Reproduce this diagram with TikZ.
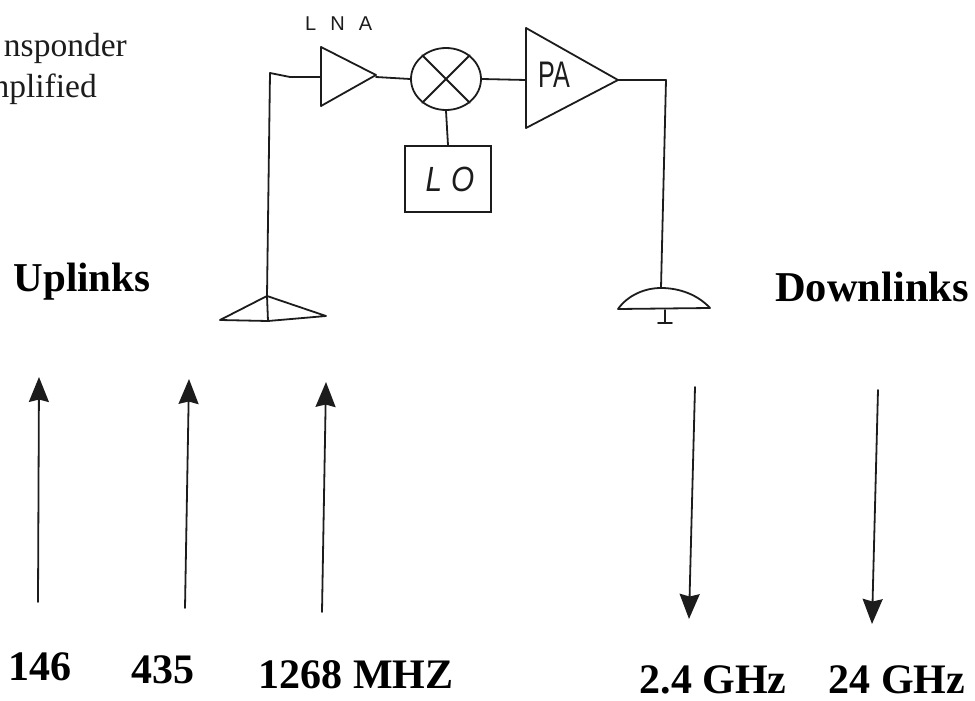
\documentclass[tikz,border=0pt]{standalone}
\usepackage{fontspec}
\setmainfont{Liberation Serif}
\newfontfamily\handfont{Liberation Sans}
\newfontfamily\handlna[LetterSpace=70]{Liberation Sans}
\newfontfamily\handlo[LetterSpace=30]{Liberation Sans}
\usetikzlibrary{arrows.meta,shapes.geometric}
\definecolor{ink}{HTML}{1c1c1c}
\tikzset{
  wire/.style={draw=ink,line width=1.8pt,line join=round,line cap=round},
  sig/.style={wire,-{Stealth[length=25pt,width=20pt,inset=2.5pt]}},
  bigtext/.style={font=\fontsize{42}{42}\selectfont\bfseries,text=black,inner sep=0pt,anchor=base},
  note/.style={font=\fontsize{33.5}{34}\selectfont,text=ink,inner sep=0pt,anchor=base east},
  hand/.style={text=ink,inner sep=0pt}
}
\begin{document}
\begin{tikzpicture}[x=1pt,y=-1pt]
\useasboundingbox (0,0) rectangle (975,701);
\node[note] (n1) at (127,57) {nsponder};
\node[note] (n2) at (97,98) {nplified};
% LNA
\coordinate (lnaA) at (321,47);
\coordinate (lnaB) at (376,75);
\coordinate (lnaC) at (321,106);
\draw[wire] (lnaA) -- (lnaB) -- (lnaC) -- cycle;
\node[hand,font=\handlna\fontsize{20}{20}\selectfont,anchor=base west] (lnat) at (305,31) {LNA};
% mixer
\node[ellipse,draw=ink,line width=1.8pt,minimum width=70pt,minimum height=62pt,inner sep=0pt] (mix) at (446,79) {};
\draw[wire] (mix.135) -- (mix.-45);
\draw[wire] (mix.45) -- (mix.-135);
% PA
\coordinate (paA) at (526,28);
\coordinate (paB) at (618,80);
\coordinate (paC) at (526,128);
\draw[wire] (paA) -- (paB) -- (paC) -- cycle;
\node[hand,font=\handfont\fontsize{37}{37}\selectfont,xscale=.68] (pat) at (554,75) {PA};
% LO
\node[draw=ink,line width=1.8pt,minimum width=86pt,minimum height=66pt,inner sep=0pt] (lo) at (448,179) {};
\node[hand,font=\handlo\itshape\fontsize{35}{35}\selectfont,xscale=.85] (lot) at (450,179) {LO};
% wiring
\coordinate (c1) at (270,73);
\coordinate (c1b) at (290,77);
\coordinate (c2) at (321,77);
\coordinate (c3) at (666,80);
\coordinate (lnaout) at (376,77);
\coordinate (paIn) at (526,80);
\coordinate (ant1) at (267,296);
\coordinate (ant1L) at (220,320);
\coordinate (ant1R) at (326,316);
\coordinate (ant1B) at (268,321);
\coordinate (ant2) at (661,288);
\coordinate (ant2L) at (618,309);
\coordinate (ant2R) at (710,308);
\coordinate (st) at (665,310);
\coordinate (stb) at (665,323);
\coordinate (stL) at (658,323);
\coordinate (stR) at (672,323);
\draw[wire] (ant1) -- (c1) -- (c1b) -- (c2);
\draw[wire] (lnaout) -- (mix.west);
\draw[wire] (mix.east) -- (paIn);
\draw[wire] (mix.south) -- (lo.north);
\draw[wire] (paB) -- (c3) -- (ant2);
\draw[wire] (ant1) -- (ant1L) -- (ant1B) -- (ant1R) -- cycle;
\draw[wire] (ant1) -- (ant1B);
\draw[wire] (ant2L) .. controls (628,295) and (645,288) .. (ant2) .. controls (680,288) and (698,295) .. (ant2R) -- cycle;
\draw[wire] (st) -- (stb);
\draw[wire] (stL) -- (stR);
% labels
\node[bigtext,font=\fontsize{41}{41}\selectfont\bfseries] (up) at (82,291) {Uplinks};
\node[bigtext,font=\fontsize{42.5}{42}\selectfont\bfseries] (down) at (872,301) {Downlinks};
\node[bigtext] (f1) at (40,680) {146};
\node[bigtext] (f2) at (163,683) {435};
\node[bigtext] (f3) at (356,688) {1268 MHZ};
\node[bigtext] (f4) at (713,693) {2.4 GHz};
\node[bigtext] (f5) at (897,693) {24 GHz};
% arrows
\coordinate (u1a) at (38,602); \coordinate (u1b) at (39,377);
\coordinate (u2a) at (185,608); \coordinate (u2b) at (189,379);
\coordinate (u3a) at (322,612); \coordinate (u3b) at (326,382);
\coordinate (d1a) at (695,387); \coordinate (d1b) at (689,619);
\coordinate (d2a) at (878,390); \coordinate (d2b) at (872,624);
\draw[sig] (u1a) -- (u1b);
\draw[sig] (u2a) -- (u2b);
\draw[sig] (u3a) -- (u3b);
\draw[sig] (d1a) -- (d1b);
\draw[sig] (d2a) -- (d2b);
\end{tikzpicture}
\end{document}
